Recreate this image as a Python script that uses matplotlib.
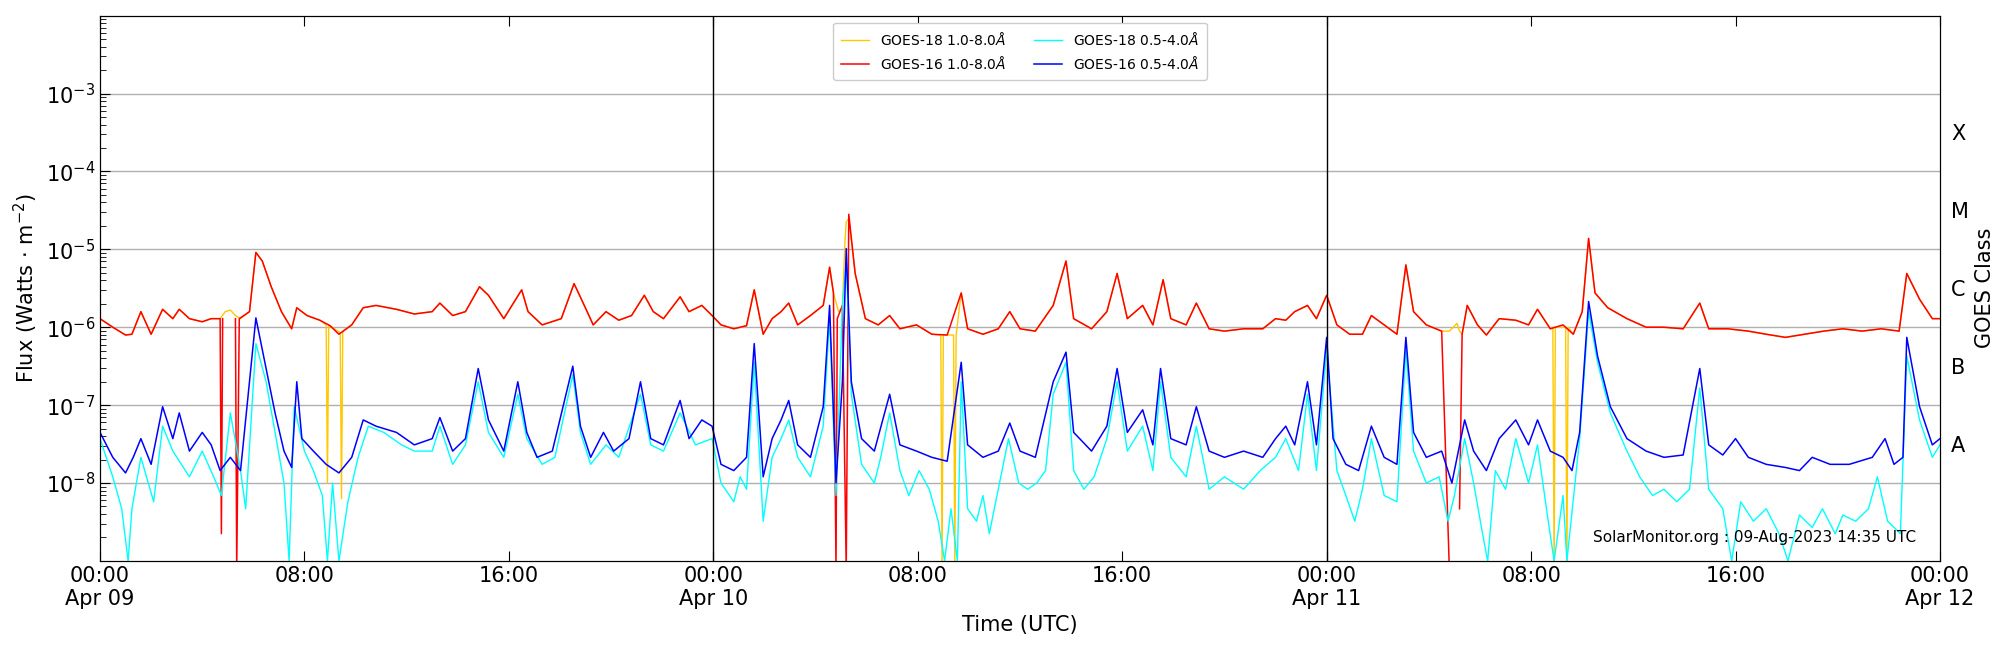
import numpy as np
import matplotlib
matplotlib.use("Agg")
import matplotlib.pyplot as plt
from matplotlib.ticker import LogLocator, NullFormatter, FixedLocator

# ---- data: hours since 2023-04-09 00:00 UTC, log10(flux W/m^2) ----
g16_long_h = [0,0.5,1,1.25,1.6,2,2.45,2.85,3.1,3.5,4,4.35,4.7,4.75,4.8,5.0,5.3,5.35,5.45,5.85,6.1,6.35,6.7,7.1,7.5,7.7,8.1,8.6,9,9.35,9.85,10.3,10.8,11.6,12.3,13,13.3,13.8,14.3,14.85,15.2,15.8,16.5,16.75,17.3,18.05,18.55,18.95,19.3,19.8,20.3,20.8,21.3,21.65,22.05,22.7,23.05,23.55,23.95,
              24.3,24.8,25.3,25.6,25.95,26.3,26.65,26.95,27.3,27.8,28.3,28.55,28.7,28.8,28.85,29.05,29.2,29.3,29.55,29.95,30.45,30.9,31.3,31.95,32.55,33.15,33.7,33.95,34.55,35.15,35.6,36,36.6,37.3,37.8,38.1,38.8,39.4,39.8,40.2,40.8,41.2,41.6,41.9,42.5,42.9,43.4,44,44.75,45.5,46,46.4,46.75,47.25,47.6,
              48,48.4,48.9,49.4,49.75,50.25,50.75,51.1,51.4,51.9,52.5,52.8,53.0,53.2,53.3,53.5,53.9,54.25,54.75,55.4,55.9,56.25,56.75,57.25,57.65,58,58.25,58.5,59,59.75,60.5,61.2,61.95,62.6,62.95,63.7,64.5,65.2,65.95,66.7,67.45,68.2,68.95,69.7,70.4,70.7,71.2,71.7,72]
g16_long_v = [-5.89,-6.0,-6.1,-6.09,-5.8,-6.09,-5.77,-5.89,-5.77,-5.89,-5.93,-5.89,-5.89,-8.65,-5.89,np.nan,-5.89,-9.1,-5.89,-5.8,-5.04,-5.15,-5.48,-5.8,-6.02,-5.75,-5.85,-5.91,-5.98,-6.09,-5.97,-5.75,-5.72,-5.77,-5.83,-5.8,-5.69,-5.85,-5.8,-5.48,-5.59,-5.89,-5.52,-5.8,-5.97,-5.89,-5.44,-5.72,-5.97,-5.8,-5.91,-5.85,-5.59,-5.8,-5.89,-5.61,-5.8,-5.72,-5.85,
              -5.97,-6.02,-5.98,-5.52,-6.09,-5.89,-5.8,-5.69,-5.97,-5.85,-5.72,-5.23,-5.56,-9.1,-5.89,-5.72,-9.1,-4.55,-5.31,-5.89,-5.97,-5.85,-6.02,-5.97,-6.09,-6.1,-5.56,-6.02,-6.09,-6.02,-5.8,-6.02,-6.05,-5.72,-5.15,-5.89,-6.02,-5.8,-5.31,-5.89,-5.72,-5.97,-5.39,-5.89,-5.97,-5.69,-6.02,-6.05,-6.02,-6.02,-5.89,-5.91,-5.8,-5.72,-5.89,
              -5.59,-5.97,-6.09,-6.09,-5.85,-5.97,-6.09,-5.2,-5.8,-5.97,-6.05,-9.1,np.nan,-8.33,-6.09,-5.72,-5.97,-6.1,-5.89,-5.91,-5.97,-5.77,-6.02,-5.97,-6.09,-5.8,-4.86,-5.56,-5.75,-5.89,-6.0,-6.0,-6.02,-5.69,-6.02,-6.02,-6.05,-6.09,-6.13,-6.09,-6.05,-6.02,-6.05,-6.02,-6.05,-5.31,-5.64,-5.89,-5.89]

# GOES-18 long channel: segments where it differs from GOES-16 (elsewhere identical)
g18_long_h = [4.7,4.9,5.1,5.3,5.5, 8.85,8.9,8.95,9.4,9.45,9.5, 28.9,29.05,29.15,29.2,29.3, 32.9,32.95,33.0,33.4,33.45,33.5, 52.8,52.95,53.1,53.2, 56.85,56.9,56.95,57.35,57.4,57.45]
g18_long_v = [-5.89,-5.8,-5.78,-5.85,-5.89, -5.97,-8.0,-5.97,-6.07,-8.2,-6.05, -5.8,-5.75,-4.9,-4.65,-4.6, -6.1,-9.1,-6.1,-6.1,-9.1,-6.1, -6.05,-6.0,-5.95,-6.05, -6.0,-9.1,-6.0,-6.0,-9.1,-6.0]

g16_short_h = [0,0.5,1,1.3,1.6,2,2.45,2.85,3.1,3.5,4,4.35,4.7,5.1,5.5,5.85,6.1,6.5,6.85,7.2,7.5,7.7,7.9,8.35,8.85,9.35,9.85,10.3,10.8,11.6,12.3,13,13.3,13.8,14.3,14.8,15.2,15.8,16.35,16.7,17.1,17.7,18.5,18.8,19.2,19.7,20.1,20.7,21.15,21.55,22.05,22.7,23.05,23.55,23.95,
               24.3,24.8,25.3,25.6,25.95,26.3,26.65,26.95,27.3,27.8,28.3,28.55,28.8,29.05,29.2,29.4,29.8,30.3,30.9,31.3,31.95,32.55,33.15,33.7,33.95,34.55,35.15,35.6,36,36.6,37.3,37.8,38.1,38.8,39.4,39.8,40.2,40.8,41.2,41.5,41.9,42.5,42.9,43.4,44,44.75,45.5,46,46.4,46.75,47.25,47.6,
               48,48.25,48.75,49.25,49.75,50.25,50.75,51.1,51.4,51.9,52.5,52.9,53.4,53.75,54.25,54.75,55.4,55.9,56.25,56.75,57.25,57.6,57.9,58.25,58.6,59.1,59.75,60.5,61.2,61.95,62.6,62.95,63.5,64,64.5,65.2,65.95,66.5,67,67.7,68.45,69.35,69.85,70.2,70.55,70.7,71.2,71.7,72]
g16_short_v = [-7.35,-7.67,-7.87,-7.67,-7.43,-7.76,-7.02,-7.43,-7.1,-7.59,-7.35,-7.51,-7.84,-7.67,-7.84,-6.7,-5.88,-6.53,-7.1,-7.59,-7.8,-6.7,-7.43,-7.59,-7.76,-7.87,-7.67,-7.19,-7.27,-7.35,-7.51,-7.43,-7.16,-7.59,-7.43,-6.53,-7.19,-7.59,-6.7,-7.35,-7.67,-7.59,-6.5,-7.27,-7.67,-7.35,-7.59,-7.43,-6.7,-7.43,-7.51,-6.94,-7.43,-7.19,-7.27,
               -7.76,-7.84,-7.67,-6.21,-7.92,-7.43,-7.19,-6.94,-7.51,-7.67,-7.02,-5.72,-8.0,-6.7,-4.99,-6.7,-7.43,-7.59,-6.86,-7.51,-7.59,-7.67,-7.72,-6.45,-7.51,-7.67,-7.59,-7.23,-7.59,-7.67,-6.7,-6.32,-7.35,-7.59,-7.27,-6.53,-7.35,-7.06,-7.51,-6.53,-7.43,-7.51,-7.02,-7.59,-7.67,-7.59,-7.67,-7.43,-7.27,-7.51,-6.7,-7.51,
               -6.13,-7.43,-7.76,-7.84,-7.27,-7.67,-7.76,-6.13,-7.35,-7.67,-7.59,-8.0,-7.19,-7.59,-7.84,-7.43,-7.19,-7.51,-7.19,-7.59,-7.67,-7.84,-7.35,-5.67,-6.37,-7.02,-7.43,-7.59,-7.67,-7.64,-6.53,-7.51,-7.64,-7.43,-7.67,-7.76,-7.8,-7.84,-7.67,-7.76,-7.76,-7.67,-7.43,-7.76,-7.67,-6.13,-7.02,-7.51,-7.43]

g18_short_h = [0,0.5,0.85,1.1,1.25,1.6,2.1,2.45,2.85,3.5,4,4.5,4.75,5.1,5.5,5.7,6.1,6.5,6.85,7.2,7.4,7.6,8,8.35,8.7,8.9,9.1,9.35,9.7,10.1,10.5,11.1,11.8,12.3,13,13.3,13.8,14.3,14.8,15.2,15.8,16.35,16.7,17.3,17.8,18.5,18.8,19.2,19.8,20.3,21.15,21.55,22.05,22.7,23.3,23.95,
               24.3,24.8,25.05,25.3,25.6,25.95,26.3,26.65,26.95,27.3,27.8,28.3,28.55,28.8,29.05,29.2,29.4,29.8,30.3,30.55,30.9,31.3,31.65,32.05,32.45,32.8,33.05,33.3,33.55,33.7,33.95,34.3,34.55,34.8,35.05,35.55,35.95,36.3,36.65,37,37.3,37.8,38.1,38.5,38.9,39.4,39.8,40.2,40.8,41.2,41.5,41.9,42.5,42.9,43.4,44,44.75,45.4,46,46.4,46.9,47.25,47.6,
               48,48.4,48.75,49.1,49.4,49.75,50.25,50.75,51.1,51.4,51.9,52.4,52.75,53,53.4,53.75,54.1,54.3,54.6,55,55.4,55.9,56.25,56.6,56.9,57.25,57.4,57.9,58.25,58.6,59.1,59.75,60.25,60.75,61.2,61.7,62.2,62.6,62.95,63.5,63.85,64.2,64.7,65.2,65.7,66.05,66.5,67,67.4,67.9,68.2,68.7,69.2,69.55,69.95,70.45,70.7,71.2,71.7,72]
g18_short_v = [-7.43,-7.92,-8.33,-9.0,-8.33,-7.67,-8.24,-7.27,-7.59,-7.92,-7.59,-7.96,-8.16,-7.1,-7.84,-8.33,-6.21,-6.7,-7.35,-8.0,-9.0,-7.02,-7.59,-7.84,-8.16,-9.0,-8.0,-9.0,-8.24,-7.67,-7.27,-7.35,-7.51,-7.59,-7.59,-7.27,-7.76,-7.51,-6.7,-7.35,-7.67,-6.86,-7.43,-7.76,-7.67,-6.61,-7.35,-7.76,-7.51,-7.67,-6.86,-7.51,-7.59,-7.1,-7.51,-7.43,
               -8.0,-8.24,-7.92,-8.08,-6.45,-8.49,-7.67,-7.43,-7.19,-7.67,-7.92,-7.27,-5.88,-8.16,-5.72,-5.15,-6.86,-7.76,-8.0,-7.67,-7.1,-7.84,-8.16,-7.84,-8.08,-8.49,-9.0,-8.33,-9.0,-6.7,-8.33,-8.49,-8.16,-8.65,-8.24,-7.43,-8.0,-8.08,-8.0,-7.84,-6.86,-6.45,-7.84,-8.08,-7.92,-7.43,-6.7,-7.59,-7.27,-7.84,-6.7,-7.67,-7.92,-7.27,-8.08,-7.92,-8.08,-7.84,-7.67,-7.43,-7.84,-6.86,-7.84,
               -6.29,-7.84,-8.16,-8.49,-8.08,-7.43,-8.16,-8.24,-6.29,-7.59,-8.0,-7.92,-8.49,-8.16,-7.43,-8.0,-8.65,-9.0,-7.84,-8.08,-7.43,-8.0,-7.51,-8.33,-9.0,-8.16,-9.0,-7.43,-5.8,-6.45,-7.1,-7.59,-7.92,-8.16,-8.08,-8.24,-8.08,-6.78,-8.08,-8.33,-9.0,-8.24,-8.49,-8.33,-8.65,-9.0,-8.41,-8.57,-8.33,-8.65,-8.41,-8.49,-8.33,-7.92,-8.49,-8.65,-6.37,-7.19,-7.67,-7.51]

xtick_hours = [0, 8, 16, 24, 32, 40, 48, 56, 64, 72]
xtick_labels = ["00:00\nApr 09", "08:00", "16:00", "00:00\nApr 10", "08:00", "16:00",
                "00:00\nApr 11", "08:00", "16:00", "00:00\nApr 12"]
class_labels = ["A", "B", "C", "M", "X"]
class_pos = [-7.5, -6.5, -5.5, -4.5, -3.5]

# build GOES-18 long from GOES-16 long outside its own segments
def merge(base_h, base_v, seg_h, seg_v, windows):
    bh = np.array(base_h, float); bv = np.array(base_v, float)
    keep = np.ones(len(bh), bool)
    for a, b in windows:
        keep &= ~((bh >= a) & (bh <= b))
    h = np.concatenate([bh[keep], seg_h]); v = np.concatenate([bv[keep], seg_v])
    o = np.argsort(h)
    v = v[o]; h = h[o]
    return h[~np.isnan(v)], v[~np.isnan(v)]

wins = [(4.65, 5.55), (8.8, 9.55), (28.75, 29.35), (32.85, 33.55), (52.75, 53.25), (56.8, 57.5)]
y18h, y18v = merge(g16_long_h, g16_long_v, g18_long_h, g18_long_v, wins)

fig = plt.figure(figsize=(20, 6.5), dpi=100)
ax = fig.add_axes([0.05, 0.137, 0.92, 0.839])

ax.plot(y18h, 10**y18v, color="#FFC800", lw=1.0, label="GOES-18 1.0-8.0$\\AA$")
ax.plot(g16_long_h, 10**np.array(g16_long_v), color="red", lw=1.1, label="GOES-16 1.0-8.0$\\AA$")
ax.plot(g18_short_h, 10**np.array(g18_short_v), color="cyan", lw=1.0, label="GOES-18 0.5-4.0$\\AA$")
ax.plot(g16_short_h, 10**np.array(g16_short_v), color="blue", lw=1.1, label="GOES-16 0.5-4.0$\\AA$")

ax.set_yscale("log")
ax.set_ylim(1e-9, 1e-2)
ax.set_xlim(0, 72)
ax.yaxis.set_major_locator(FixedLocator([1e-8, 1e-7, 1e-6, 1e-5, 1e-4, 1e-3]))
ax.yaxis.set_minor_locator(LogLocator(base=10, subs=np.arange(2, 10)))
ax.yaxis.set_minor_formatter(NullFormatter())
ax.set_xticks(xtick_hours)
ax.set_xticklabels(xtick_labels)
ax.tick_params(which="both", direction="in", top=True, right=True, labelsize=15)
ax.tick_params(which="major", length=7)
ax.tick_params(which="minor", length=4)
ax.grid(axis="y", which="major", color="#b0b0b0", lw=1)
for d in [24, 48]:
    ax.axvline(d, color="black", lw=1)

ax.set_xlabel("Time (UTC)", fontsize=15)
ax.set_ylabel("Flux (Watts $\\cdot$ m$^{-2}$)", fontsize=15)

ax2 = ax.twinx()
ax2.set_ylim(-9, -2)
ax2.set_yticks(class_pos)
ax2.set_yticklabels(class_labels)
ax2.tick_params(direction="in", length=0, labelsize=15, pad=8)
ax2.set_ylabel("GOES Class", fontsize=15)

ax.legend(loc="upper center", ncol=2, fontsize=10, framealpha=1, borderpad=0.6)
ax.text(0.987, 0.03, "SolarMonitor.org : 09-Aug-2023 14:35 UTC", transform=ax.transAxes,
        ha="right", va="bottom", fontsize=11)

fig.savefig("out.png", dpi=100)
